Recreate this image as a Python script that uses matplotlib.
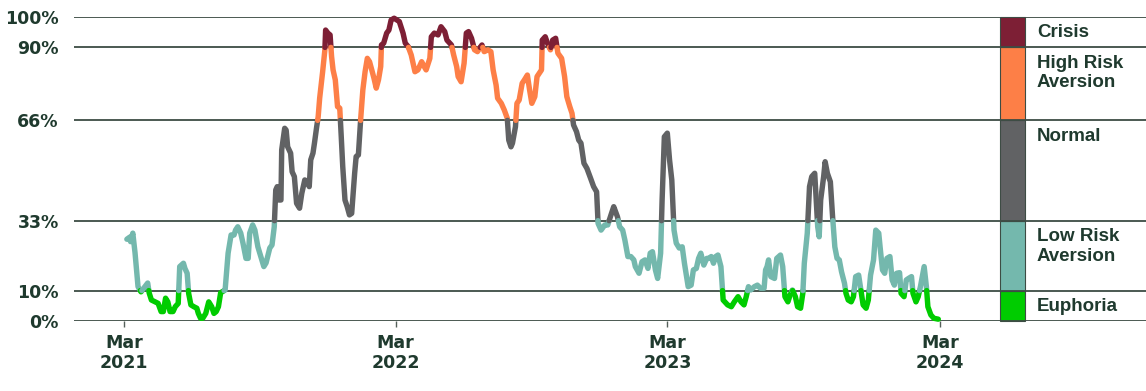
import numpy as np
import matplotlib
matplotlib.use("Agg")
import matplotlib.pyplot as plt
import matplotlib.dates as mdates
from matplotlib.patches import Rectangle


# risk-appetite index (%), sampled at its turning points;
# days are counted from 1 March 2021
start = np.datetime64("2021-03-01")
days = [
    4, 8, 9, 12, 15, 19, 23, 27, 32, 34, 37, 42, 46, 50, 53, 56, 59, 62, 66, 69,
    73, 75, 80, 82, 85, 87, 90, 94, 98, 100, 103, 106, 110, 114, 118, 121, 124, 127, 130, 136,
    140, 144, 148, 150, 153, 157, 160, 164, 167, 169, 173, 176, 180, 188, 191, 196, 199, 202, 204, 206,
    208, 211, 212, 216, 218, 220, 224, 226, 229, 232, 236, 239, 243, 247, 249, 251, 254, 256, 259, 261,
    263, 267, 270, 271, 274, 277, 279, 281, 284, 287, 290, 292, 294, 297, 300, 303, 306, 308, 310, 312,
    315, 318, 321, 324, 327, 330, 333, 336, 339, 342, 345, 346, 349, 353, 356, 359, 363, 370, 375, 378,
    382, 386, 391, 395, 400, 403, 406, 411, 413, 417, 422, 426, 431, 434, 440, 443, 447, 449, 453, 457,
    460, 463, 467, 471, 475, 478, 481, 484, 489, 493, 496, 500, 502, 507, 511, 515, 517, 520, 522, 526,
    528, 531, 535, 538, 542, 545, 548, 552, 555, 561, 562, 566, 569, 573, 576, 580, 583, 588, 592, 595,
    599, 602, 604, 608, 611, 614, 618, 622, 627, 631, 635, 637, 641, 646, 650, 655, 658, 663, 666, 670,
    673, 677, 681, 685, 687, 692, 696, 700, 704, 707, 710, 714, 717, 721, 723, 726, 730, 733, 736, 739,
    742, 746, 750, 753, 758, 762, 765, 769, 772, 775, 779, 783, 786, 789, 792, 795, 798, 802, 805, 811,
    816, 820, 825, 829, 833, 836, 839, 842, 847, 851, 855, 860, 862, 864, 866, 869, 874, 877, 882, 885,
    888, 892, 895, 898, 902, 905, 909, 912, 914, 918, 921, 924, 928, 932, 934, 936, 940, 942, 945, 949,
    952, 955, 958, 961, 964, 968, 970, 973, 977, 980, 983, 987, 990, 993, 997, 1000, 1003, 1007, 1010, 1014,
    1016, 1019, 1022, 1025, 1029, 1032, 1035, 1038, 1042, 1044, 1048, 1051, 1054, 1058, 1060, 1064, 1067, 1070, 1075, 1078,
    1080, 1084, 1088, 1094,
]
index_pct = [
    26.9, 27.6, 26.1, 28.9, 22.4, 11.3, 9.6, 10.9, 12.5, 9.2, 6.9, 6.3, 5.8, 3.1, 3.1, 7.5, 6.3, 3.1, 3.1, 4.7,
    5.8, 17.9, 19.0, 17.3, 15.7, 9.1, 5.3, 4.7, 4.2, 2.5, 0.9, 0.9, 2.5, 6.3, 4.7, 2.5, 3.1, 4.7, 9.3, 10.2,
    22.3, 28.3, 28.3, 29.9, 31.0, 28.9, 25.6, 20.6, 20.6, 28.9, 31.6, 29.9, 24.4, 17.9, 19.1, 24.0, 25.0, 31.0, 43.1, 44.2,
    39.8, 39.8, 56.3, 63.4, 62.8, 57.3, 55.2, 49.1, 47.5, 38.7, 37.1, 42.0, 46.4, 45.8, 44.2, 53.0, 55.2, 58.5, 63.9, 67.2,
    73.3, 82.0, 89.2, 95.7, 94.7, 94.1, 87.0, 82.6, 79.3, 70.5, 70.0, 60.6, 50.8, 39.8, 37.6, 34.9, 35.4, 42.0, 48.6, 54.1,
    54.6, 66.1, 76.0, 82.0, 86.4, 85.3, 82.6, 79.8, 76.6, 79.3, 83.7, 90.8, 91.4, 94.7, 95.7, 99.0, 99.6, 98.5, 94.7, 91.4,
    90.2, 87.5, 82.0, 82.6, 85.3, 83.9, 82.6, 86.4, 93.5, 94.7, 94.1, 96.8, 95.2, 92.4, 90.8, 87.5, 83.7, 80.4, 78.7, 84.8,
    94.7, 95.2, 93.0, 89.2, 88.6, 89.8, 90.8, 88.6, 89.2, 88.6, 82.6, 77.6, 73.3, 71.6, 69.4, 66.7, 59.5, 57.3, 58.5, 63.9,
    71.6, 72.7, 78.2, 79.3, 80.9, 76.0, 71.6, 73.8, 80.4, 82.6, 92.4, 93.5, 91.4, 89.2, 92.4, 93.0, 88.1, 86.4, 80.4, 73.8,
    70.5, 68.3, 64.5, 62.3, 59.5, 58.5, 51.9, 50.2, 46.9, 44.2, 42.5, 32.1, 29.9, 31.6, 31.6, 35.4, 37.6, 34.3, 31.0, 29.9,
    26.6, 21.2, 21.2, 20.1, 17.9, 15.7, 19.5, 20.1, 17.3, 22.3, 22.8, 16.8, 14.0, 22.3, 39.8, 60.6, 61.8, 53.0, 46.4, 29.9,
    25.6, 24.0, 24.4, 19.0, 11.3, 11.8, 16.8, 17.3, 20.6, 22.3, 18.4, 20.6, 20.6, 21.2, 19.0, 21.2, 21.7, 17.9, 6.9, 5.3,
    4.7, 6.3, 8.0, 6.3, 5.3, 8.0, 11.3, 10.2, 11.3, 11.8, 10.8, 10.8, 16.8, 17.9, 20.1, 14.6, 14.0, 20.6, 21.7, 17.9,
    8.0, 6.3, 8.6, 10.2, 8.0, 4.7, 4.2, 9.1, 19.0, 28.9, 44.2, 47.5, 48.6, 31.0, 27.7, 39.8, 47.5, 52.4, 48.6, 45.8,
    34.3, 24.4, 20.6, 20.1, 16.2, 12.4, 9.1, 6.9, 6.3, 8.0, 14.6, 15.1, 10.2, 5.3, 4.2, 6.9, 15.1, 20.1, 29.9, 28.9,
    23.9, 16.8, 15.7, 20.6, 21.2, 13.5, 11.8, 15.7, 15.9, 9.1, 8.0, 13.5, 14.0, 14.6, 9.1, 6.3, 8.0, 11.3, 17.9, 11.3,
    4.7, 2.0, 0.9, 0.6,
]

# regime bands: lower bound, upper bound, name, colour
thresholds = [10, 33, 66, 90]
band_lo = [0, 10, 33, 66, 90]
band_hi = [10, 33, 66, 90, 100]
band_names = ["Euphoria", "Low Risk\nAversion", "Normal", "High Risk\nAversion", "Crisis"]
band_colors = ["#00cc00", "#74b8ad", "#616264", "#fd7f47", "#7d1f35"]

yticks = [0, 10, 33, 66, 90, 100]
ytick_labels = ["0%", "10%", "33%", "66%", "90%", "100%"]
xtick_dates = ["2021-03-01", "2022-03-01", "2023-03-01", "2024-03-01"]
xtick_labels = ["Mar\n2021", "Mar\n2022", "Mar\n2023", "Mar\n2024"]

ink = "#1f3a2e"
grid = "#3d4c44"

plt.rcParams["font.family"] = ["DejaVu Sans"]
plt.rcParams["font.weight"] = "bold"


def zone(v):
    return int(np.searchsorted(thresholds, v, side="right"))


def split_runs(x, y):
    """cut the line where it crosses a band edge, group pieces by band"""
    runs = []
    for i in range(len(x) - 1):
        x0, y0, x1, y1 = x[i], y[i], x[i + 1], y[i + 1]
        cuts = [0.0]
        for t in thresholds:
            if (y0 - t) * (y1 - t) < 0:
                cuts.append((t - y0) / (y1 - y0))
        cuts.append(1.0)
        cuts.sort()
        for a, b in zip(cuts[:-1], cuts[1:]):
            xa, ya = x0 + a * (x1 - x0), y0 + a * (y1 - y0)
            xb, yb = x0 + b * (x1 - x0), y0 + b * (y1 - y0)
            z = zone((ya + yb) / 2)
            if runs and runs[-1][0] == z and runs[-1][1][-1] == xa:
                runs[-1][1].append(xb)
                runs[-1][2].append(yb)
            else:
                runs.append((z, [xa, xb], [ya, yb]))
    return runs


dates = start + np.array(days).astype("timedelta64[D]")
xs = mdates.date2num(dates)
ys = np.array(index_pct, dtype=float)

fig = plt.figure(figsize=(11.46, 3.91), dpi=100)
ax = fig.add_axes([74 / 1146, 70 / 391, 1 - 74 / 1146, 304 / 391])

for z, rx, ry in split_runs(xs, ys):
    ax.plot(rx, ry, color=band_colors[z], lw=3.9, solid_capstyle="round",
            solid_joinstyle="round", zorder=3, clip_on=False)

for v in yticks:
    ax.axhline(v, color=grid, lw=1.3, zorder=2)

# colour key on the right
trans = ax.get_yaxis_transform()
bar_x, bar_w = (1000 - 74) / 1072, 25 / 1072
for lo, hi, name, col in zip(band_lo, band_hi, band_names, band_colors):
    ax.add_patch(Rectangle((bar_x, lo), bar_w, hi - lo, transform=trans,
                           facecolor=col, edgecolor=grid, lw=0.8, zorder=1, clip_on=False))
    ax.text((1037 - 74) / 1072, hi - 2.4, name, transform=trans, ha="left", va="top",
            fontsize=13.5, color=ink, fontweight="bold", linespacing=1.2,
            family=["Liberation Sans", "DejaVu Sans"])

ax.set_xlim(mdates.date2num(np.datetime64("2020-12-24")), mdates.date2num(np.datetime64("2024-12-03")))
ax.set_ylim(0, 100)

ax.set_yticks(yticks)
ax.set_yticklabels(ytick_labels)
ax.set_xticks(mdates.date2num(np.array(xtick_dates, dtype="datetime64[D]")))
ax.set_xticklabels(xtick_labels, linespacing=1.2)
ax.tick_params(axis="y", length=0, pad=11, labelsize=12.5, labelcolor=ink)
ax.tick_params(axis="x", length=4, width=1, color="#55605a", pad=5, labelsize=12.5, labelcolor=ink)

for s in ax.spines.values():
    s.set_visible(False)

fig.savefig("out.png", dpi=100)
